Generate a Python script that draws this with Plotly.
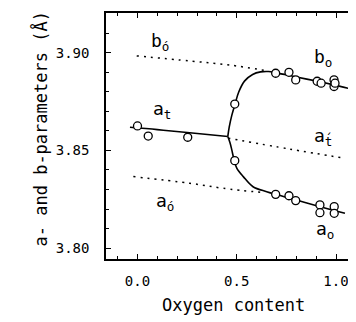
import plotly.graph_objects as go

# ---- data ----
# measured points (open circles)
at_x = [0.0, 0.054, 0.253]
at_y = [3.8626, 3.8574, 3.8568]
mid_x = [0.49, 0.49]
mid_y = [3.8738, 3.8448]
bo_x = [0.696, 0.763, 0.797, 0.905, 0.925, 0.990, 0.990, 0.995]
bo_y = [3.8896, 3.8901, 3.8862, 3.8855, 3.8845, 3.8862, 3.8828, 3.8845]
ao_x = [0.696, 0.763, 0.797, 0.919, 0.919, 0.991, 0.991]
ao_y = [3.8275, 3.8268, 3.8243, 3.8221, 3.8181, 3.8212, 3.8178]

# fitted solid curves
fit_at_x = [-0.038, 0.10, 0.25, 0.455]
fit_at_y = [3.8619, 3.8607, 3.8592, 3.8572]
fit_up_x = [0.455, 0.462, 0.475, 0.492, 0.51, 0.54, 0.58, 0.62, 0.66, 0.70, 0.80, 0.92, 1.00, 1.062]
fit_up_y = [3.8572, 3.8620, 3.8680, 3.8740, 3.8800, 3.8857, 3.8890, 3.8903, 3.8905, 3.8898, 3.8877, 3.8852, 3.8834, 3.8819]
fit_lo_x = [0.455, 0.466, 0.475, 0.487, 0.50, 0.533, 0.582, 0.651, 0.70, 0.80, 0.92, 1.00, 1.045]
fit_lo_y = [3.8572, 3.8540, 3.8503, 3.8450, 3.8410, 3.8366, 3.8314, 3.8289, 3.8274, 3.8246, 3.8212, 3.8190, 3.8178]

# dotted extrapolations
bpo_x = [-0.004, 0.264, 0.466, 0.651]
bpo_y = [3.8985, 3.8959, 3.8938, 3.8909]
apt_x = [0.457, 0.768, 1.045]
apt_y = [3.8563, 3.8507, 3.8460]
apo_x = [-0.021, 0.264, 0.432, 0.634]
apo_y = [3.8366, 3.8332, 3.8306, 3.8284]

labels = ["b<sub>ó</sub>", "a<sub>t</sub>", "b<sub>o</sub>", "a<sub>t\u0301</sub>", "a<sub>ó</sub>", "a<sub>o</sub>"]
label_x = [0.113, 0.122, 0.935, 0.935, 0.139, 0.945]
label_y = [3.9058, 3.8708, 3.8974, 3.8569, 3.8237, 3.8092]

FONT = "DejaVu Sans Mono"
fig = go.Figure()

for xs, ys in [(fit_at_x, fit_at_y), (fit_up_x, fit_up_y), (fit_lo_x, fit_lo_y)]:
    fig.add_trace(go.Scatter(x=xs, y=ys, mode="lines",
                             line=dict(color="black", width=1.6, shape="spline"),
                             showlegend=False, hoverinfo="skip"))
for xs, ys in [(bpo_x, bpo_y), (apt_x, apt_y), (apo_x, apo_y)]:
    fig.add_trace(go.Scatter(x=xs, y=ys, mode="lines",
                             line=dict(color="black", width=1.5, dash="2px,5px", shape="spline"),
                             showlegend=False, hoverinfo="skip"))
for xs, ys in [(at_x, at_y), (mid_x, mid_y), (bo_x, bo_y), (ao_x, ao_y)]:
    fig.add_trace(go.Scatter(x=xs, y=ys, mode="markers",
                             marker=dict(symbol="circle", size=8, color="white",
                                         line=dict(color="black", width=1.3)),
                             showlegend=False))

for t, x, y in zip(labels, label_x, label_y):
    fig.add_annotation(x=x, y=y, xref="x", yref="y", text=t, showarrow=False,
                       font=dict(family=FONT, size=18, color="black"))

fig.add_annotation(xref="paper", yref="paper", x=0, y=0.5, xshift=-79, yshift=7,
                   text="a- and b-parameters (Å)", textangle=-90, showarrow=False,
                   font=dict(family=FONT, size=17, color="black"))
fig.add_annotation(xref="x", yref="paper", x=0.486, y=0, yshift=-46, yanchor="middle",
                   text="Oxygen content", showarrow=False,
                   font=dict(family=FONT, size=17, color="black"))

# page body adds an 8px offset; margins compensate so the frame lands where the reference has it
fig.update_layout(
    width=356, height=322,
    margin=dict(l=98, r=0, t=5, b=71),
    paper_bgcolor="white", plot_bgcolor="white",
    font=dict(family=FONT, size=14, color="black"),
)
fig.update_xaxes(range=[-0.1587, 1.141], tickvals=[0.0, 0.5, 1.0], ticktext=["0.0", "0.5", "1.0"],
                 ticks="inside", ticklen=5, tickcolor="black", tickwidth=1,
                 minor=dict(dtick=0.1, tick0=0, ticks="inside", ticklen=3, tickcolor="black"),
                 showline=True, linecolor="black", linewidth=1.5, mirror="ticks",
                 showgrid=False, zeroline=False, ticklabelstandoff=8)
fig.update_yaxes(range=[3.79436, 3.9205], tickvals=[3.80, 3.85, 3.90], ticktext=["3.80", "3.85", "3.90"],
                 ticks="inside", ticklen=5, tickcolor="black", tickwidth=1,
                 minor=dict(dtick=0.01, tick0=3.80, ticks="inside", ticklen=3, tickcolor="black"),
                 showline=True, linecolor="black", linewidth=1.5, mirror=False,
                 showgrid=False, zeroline=False, ticklabelstandoff=12)

fig.write_html("out.html")
